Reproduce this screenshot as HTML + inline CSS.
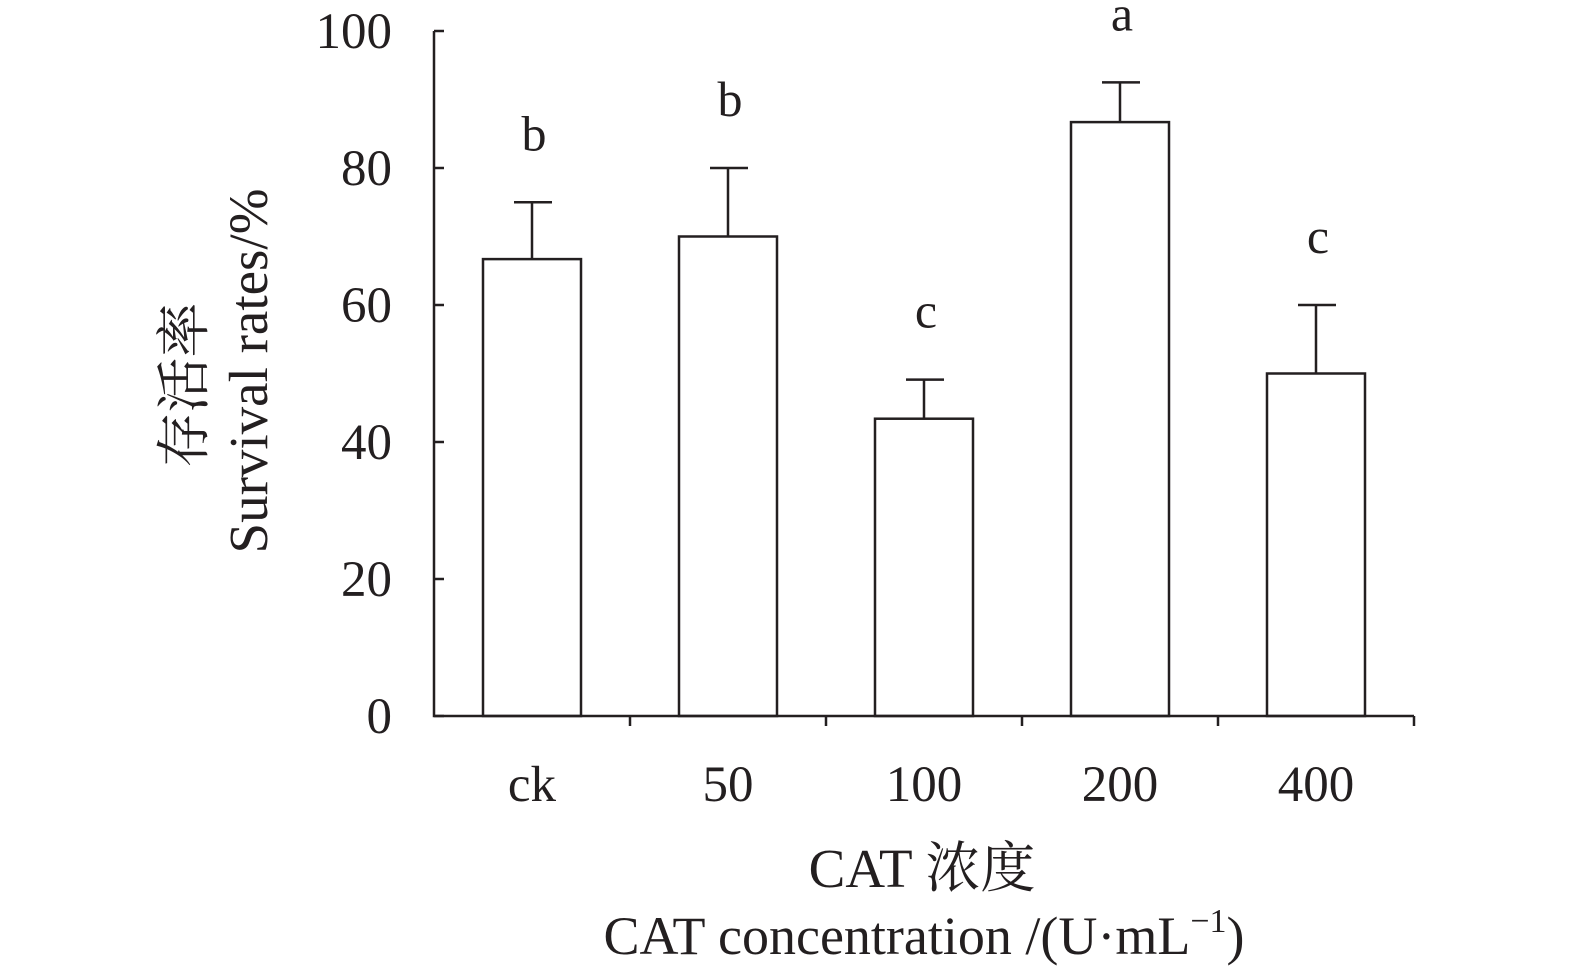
<!DOCTYPE html>
<html><head><meta charset="utf-8"><style>
body{margin:0;background:#fff;}
svg text{font-family:"Liberation Serif","Noto Serif CJK SC",serif;fill:#231f20;}
</style></head><body>
<svg width="1575" height="974" id="chart">
<text x="922" y="887" font-size="55" text-anchor="middle">CAT 浓度</text>
<text x="924" y="954" font-size="54" text-anchor="middle">CAT concentration /(U·mL<tspan font-size="34" dy="-22">−1</tspan><tspan dy="22">)</tspan></text>
<text transform="translate(203,385) rotate(-90)" font-size="55" text-anchor="middle">存活率</text>
<text transform="translate(267,371) rotate(-90)" font-size="55" text-anchor="middle">Survival rates/%</text>
</svg>
<script>
const categories=["ck","50","100","200","400"];
const values=[66.7,70,43.4,86.7,50];
const errors=[8.3,10,5.7,5.8,10];
const letters=["b","b","c","a","c"];
const yTicks=[0,20,40,60,80,100];
const svg=document.getElementById('chart');
const NS="http://www.w3.org/2000/svg";
const x0=434,x1=1414,y0=716,y1=31;
const y=v=>y0-(v/100)*(y0-y1);
const band=(x1-x0)/categories.length;
const cx=i=>x0+band*(i+0.5);
function mk(t,a){const e=document.createElementNS(NS,t);for(const k in a)e.setAttribute(k,a[k]);svg.appendChild(e);return e;}
const S={stroke:"#231f20","stroke-width":2.5,fill:"none"};
categories.forEach((c,i)=>{
 const b=mk('rect',Object.assign({x:cx(i)-49,y:y(values[i]),width:98,height:y0-y(values[i])},S));
 
 
 const eb=mk('path',Object.assign({d:`M${cx(i)} ${y(values[i])}V${y(values[i]+errors[i])}M${cx(i)-18} ${y(values[i]+errors[i])}H${cx(i)+20}`},S));
 
 
 const l=mk('text',{x:cx(i)+2,y:y(values[i]+errors[i])-52,'font-size':50,'text-anchor':'middle'});
 l.textContent=letters[i];
 
 
 const t=mk('text',{x:cx(i),y:801,'font-size':51,'text-anchor':'middle'});
 t.textContent=c;
 
 
 const tk=mk('path',Object.assign({d:`M${x0+band*(i+1)} ${y0}V${y0+10}`},S));
 
 
});
yTicks.forEach(v=>{
 const tk=mk('path',Object.assign({d:`M${x0} ${y(v)}H${x0+10}`},S));
 
 
 const t=mk('text',{x:392,y:y(v)+17,'font-size':51,'text-anchor':'end'});
 t.textContent=v;
 
 
});
const ax=mk('path',Object.assign({d:`M${x0} ${y1}V${y0}H${x1}`},S));


</script>
</body></html>
